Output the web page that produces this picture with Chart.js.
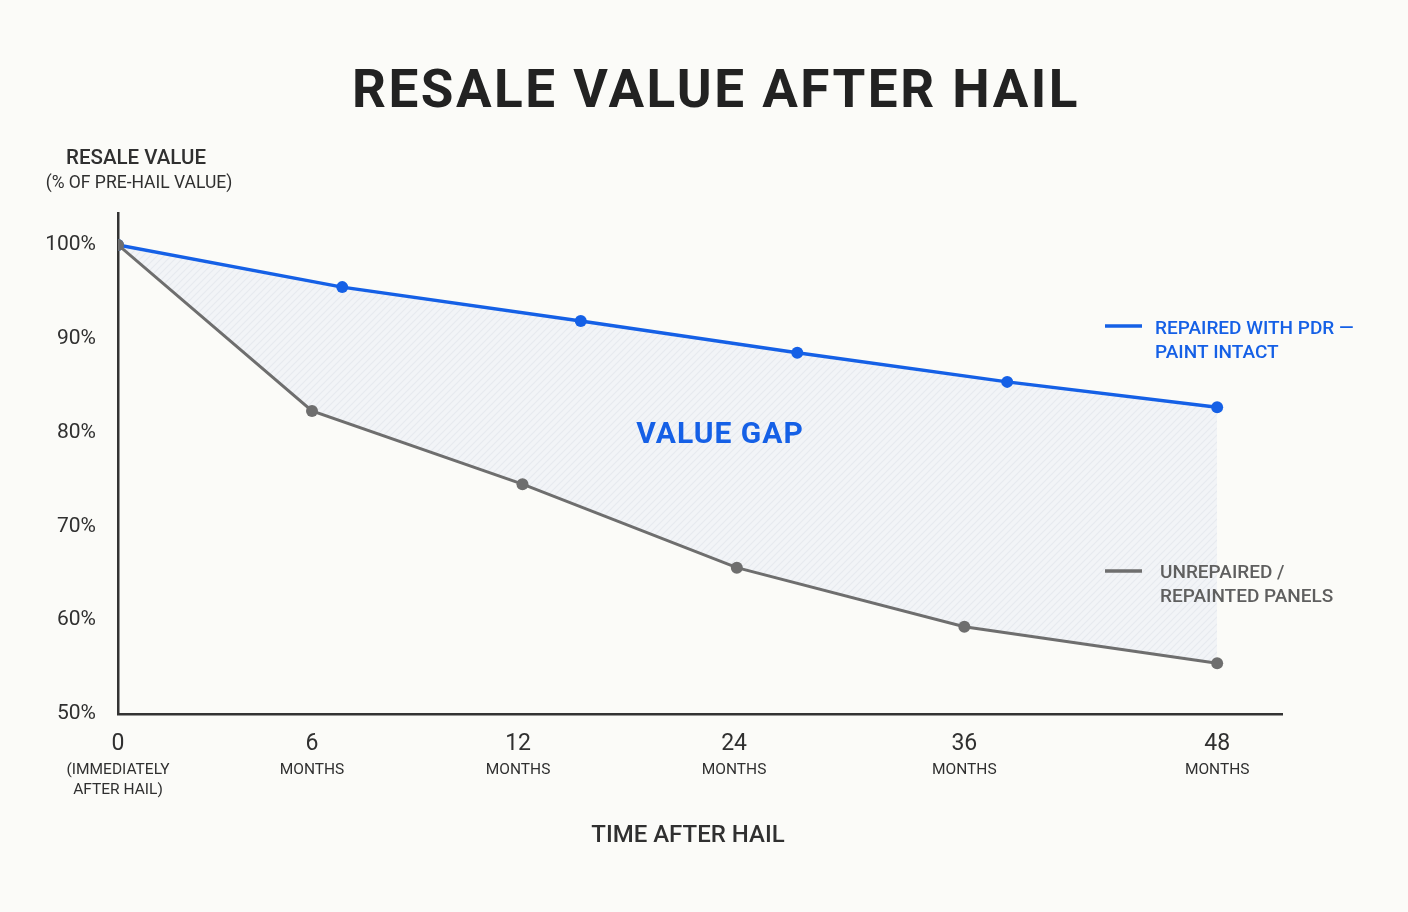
<!DOCTYPE html>
<html>
<head>
<meta charset="utf-8">
<script src="https://cdn.jsdelivr.net/npm/chart.js@4.4.1/dist/chart.umd.min.js"></script>
<style>
  html, body { margin: 0; padding: 0; background: #fbfbf8; }
  #wrap { width: 1408px; height: 912px; position: relative; }
</style>
</head>
<body>
<div id="wrap"><canvas id="myChart"></canvas></div>
<script>
// timeline position: 0 = hail, 100 = 48 months (axis is not linear in months)
const xTickPos = [0, 17.65, 36.4, 56.05, 77.0, 100];
const xTickNums = ['0', '6', '12', '24', '36', '48'];
const xTickSubs = [['(IMMEDIATELY', 'AFTER HAIL)'], ['MONTHS'], ['MONTHS'], ['MONTHS'], ['MONTHS'], ['MONTHS']];
const yTicks = [50, 60, 70, 80, 90, 100];

const repairedX = [0, 20.4, 42.1, 61.8, 80.9, 100];
const repairedY = [100, 95.5, 91.9, 88.5, 85.4, 82.7];
const unrepairedX = [0, 17.65, 36.8, 56.3, 77.0, 100];
const unrepairedY = [100, 82.3, 74.5, 65.6, 59.3, 55.4];

const BLUE = '#1560e6';
const GRAY = '#6e6e6e';
const INK = '#303030';
const FONT = 'Roboto, "Noto Sans", sans-serif';

function stripes() {
    const c = document.createElement('canvas');
    c.width = 7; c.height = 7;
    const g = c.getContext('2d');
    g.fillStyle = '#f2f4f7';
    g.fillRect(0, 0, 7, 7);
    g.strokeStyle = '#e7eaef';
    g.lineWidth = 1.2;
    g.beginPath();
    g.moveTo(0, 7); g.lineTo(7, 0);
    g.moveTo(-1, 1); g.lineTo(1, -1);
    g.moveTo(6, 8); g.lineTo(8, 6);
    g.stroke();
    return g.createPattern(c, 'repeat');
}

const toPts = (xs, ys) => xs.map((x, i) => ({ x: x, y: ys[i] }));

const annotations = {
    id: 'annotations',
    afterDraw(chart) {
        const ctx = chart.ctx;
        const xs = chart.scales.x;
        ctx.save();
        ctx.textBaseline = 'middle';

        // title
        ctx.fillStyle = '#222';
        ctx.textAlign = 'center';
        ctx.font = 'bold 53px ' + FONT;
        ctx.letterSpacing = '2.5px';
        ctx.fillText('RESALE VALUE AFTER HAIL', 716, 94);
        ctx.letterSpacing = '0px';

        // y axis title
        ctx.fillStyle = INK;
        ctx.font = '500 20.5px ' + FONT;
        ctx.fillText('RESALE VALUE', 136, 159);
        ctx.font = '17.5px ' + FONT;
        ctx.fillText('(% OF PRE-HAIL VALUE)', 139, 184);

        // x tick labels
        xTickPos.forEach((v, i) => {
            const px = xs.getPixelForValue(v);
            ctx.font = '23px ' + FONT;
            ctx.fillText(xTickNums[i], px, 744);
            ctx.font = '15.5px ' + FONT;
            xTickSubs[i].forEach((s, j) => ctx.fillText(s, px, 770 + j * 20));
        });

        // x axis title
        ctx.font = '500 24px ' + FONT;
        ctx.fillText('TIME AFTER HAIL', 688, 836);

        // gap label
        ctx.fillStyle = BLUE;
        ctx.font = 'bold 30px ' + FONT;
        ctx.letterSpacing = '1px';
        ctx.fillText('VALUE GAP', 720, 435);
        ctx.letterSpacing = '0px';

        // legend
        ctx.lineWidth = 3.5;
        ctx.strokeStyle = BLUE;
        ctx.beginPath(); ctx.moveTo(1105, 326); ctx.lineTo(1142, 326); ctx.stroke();
        ctx.textAlign = 'left';
        ctx.font = '500 19px ' + FONT;
        ctx.fillText('REPAIRED WITH PDR \u2014', 1155, 329);
        ctx.fillText('PAINT INTACT', 1155, 353);

        ctx.strokeStyle = GRAY;
        ctx.beginPath(); ctx.moveTo(1105, 571); ctx.lineTo(1142, 571); ctx.stroke();
        ctx.fillStyle = '#5f5f5f';
        ctx.fillText('UNREPAIRED /', 1160, 573);
        ctx.fillText('REPAINTED PANELS', 1160, 597);
        ctx.restore();
    }
};

const ctx = document.getElementById('myChart').getContext('2d');
const chart = new Chart(ctx, {
    type: 'line',
    data: {
        datasets: [{
            label: 'Unrepaired / Repainted Panels',
            data: toPts(unrepairedX, unrepairedY),
            borderColor: GRAY,
            backgroundColor: GRAY,
            borderWidth: 3,
            pointRadius: 6,
            pointBackgroundColor: GRAY,
            pointBorderWidth: 0,
            tension: 0,
            fill: false
        }, {
            label: 'Repaired with PDR \u2014 Paint Intact',
            data: toPts(repairedX, repairedY),
            borderColor: BLUE,
            backgroundColor: stripes(),
            borderWidth: 3.5,
            pointRadius: 6,
            pointBackgroundColor: BLUE,
            pointBorderWidth: 0,
            tension: 0,
            fill: '-1'
        }]
    },
    options: {
        responsive: true,
        maintainAspectRatio: false,
        animation: false,
        layout: { padding: { top: 213, right: 126, left: 0, bottom: 0 } },
        plugins: {
            legend: { display: false },
            title: { display: false },
            tooltip: { enabled: false }
        },
        scales: {
            x: {
                type: 'linear',
                min: 0,
                max: 105.9,
                grid: { display: false, drawTicks: false },
                border: { display: true, color: '#333', width: 2.5 },
                ticks: { display: false },
                afterFit(scale) { scale.height = 198; }
            },
            y: {
                min: 50,
                max: 103.4,
                grid: { display: false, drawTicks: false },
                border: { display: true, color: '#333', width: 2.5 },
                afterBuildTicks(scale) { scale.ticks = yTicks.map(v => ({ value: v })); },
                ticks: {
                    padding: 22,
                    color: INK,
                    font: { family: FONT, size: 21 },
                    callback: v => v + '%'
                },
                afterFit(scale) { scale.width = 118; }
            }
        }
    },
    plugins: [annotations]
});
</script>
</body>
</html>
